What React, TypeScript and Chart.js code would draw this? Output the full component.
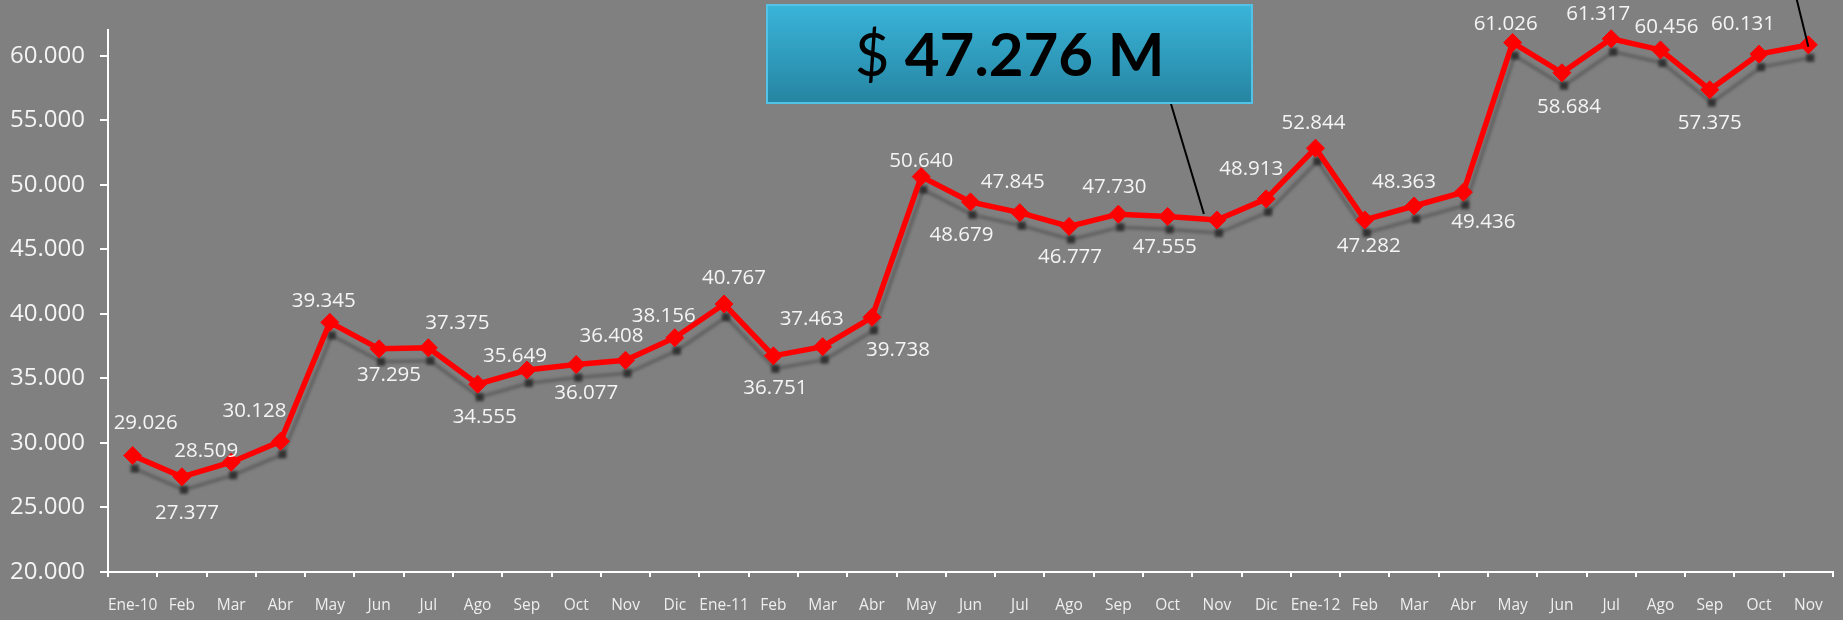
import React, { useEffect, useRef } from "react";
import { Chart, registerables } from "chart.js";

Chart.register(...registerables);

const categories = [
  "Ene-10", "Feb", "Mar", "Abr", "May", "Jun", "Jul", "Ago", "Sep", "Oct", "Nov", "Dic",
  "Ene-11", "Feb", "Mar", "Abr", "May", "Jun", "Jul", "Ago", "Sep", "Oct", "Nov", "Dic",
  "Ene-12", "Feb", "Mar", "Abr", "May", "Jun", "Jul", "Ago", "Sep", "Oct", "Nov",
];

const values = [
  29026, 27377, 28509, 30128, 39345, 37295, 37375, 34555, 35649, 36077, 36408, 38156,
  40767, 36751, 37463, 39738, 50640, 48679, 47845, 46777, 47730, 47555, 47276, 48913,
  52844, 47282, 48363, 49436, 61026, 58684, 61317, 60456, 57375, 60131, 60850,
];

const yTickValues = [20000, 25000, 30000, 35000, 40000, 45000, 50000, 55000, 60000];
const yMin = 20000;
const yMax = 62000;

// indices of points that carry a callout instead of a data label
const calloutIndex = 22;
const secondCalloutIndex = 34;

// label placement relative to each point [dx, dy] (style only)
const labelOffsets: [number, number][] = [
  [13, -34], [5, 35], [-25, -12], [-26, -31], [-6, -22], [10, 25], [29, -26], [7, 32],
  [-12, -15], [10, 27], [-14, -25], [-11, -23], [10, -27], [2, 31], [-11, -29], [26, 32],
  [0, -17], [-9, 32], [-7, -32], [1, 30], [-4, -28], [-3, 30], [0, 0], [-15, -31],
  [-2, -26], [4, 25], [-10, -25], [20, 29], [-7, -20], [7, 33], [-13, -26], [6, -24],
  [0, 32], [-16, -31], [0, 0],
];

const fmt = (v: number) =>
  Math.round(v).toString().replace(/\B(?=(\d{3})+(?!\d))/g, ".");

export default function App() {
  const ref = useRef<HTMLCanvasElement>(null);

  useEffect(() => {
    if (!ref.current) return;

    const shadowPlugin = {
      id: "shadowLine",
      beforeDatasetsDraw(chart: any) {
        const meta = chart.getDatasetMeta(0);
        const ctx = chart.ctx as CanvasRenderingContext2D;
        ctx.save();
        ctx.filter = "blur(1.4px)";
        ctx.strokeStyle = "rgba(85,85,85,0.75)";
        ctx.lineWidth = 3.5;
        ctx.lineJoin = "round";
        ctx.beginPath();
        meta.data.forEach((p: any, i: number) => {
          const x = p.x + 2;
          const y = p.y + 13;
          if (i === 0) ctx.moveTo(x, y);
          else ctx.lineTo(x, y);
        });
        ctx.stroke();
        ctx.fillStyle = "rgba(40,40,40,0.85)";
        meta.data.forEach((p: any) => {
          ctx.fillRect(p.x + 2 - 4, p.y + 13 - 4, 8, 8);
        });
        ctx.restore();
      },
    };

    const labelPlugin = {
      id: "dataLabels",
      afterDatasetsDraw(chart: any) {
        const meta = chart.getDatasetMeta(0);
        const ctx = chart.ctx as CanvasRenderingContext2D;
        ctx.save();
        ctx.font = '20.5px "Open Sans"';
        ctx.fillStyle = "#f4f4f4";
        ctx.textAlign = "center";
        ctx.textBaseline = "alphabetic";
        meta.data.forEach((p: any, i: number) => {
          if (i === calloutIndex || i === secondCalloutIndex) return;
          const [dx, dy] = labelOffsets[i];
          ctx.fillText(fmt(values[i]), p.x + dx, p.y + dy + 7);
        });
        ctx.restore();
      },
    };

    const calloutPlugin = {
      id: "callout",
      afterDraw(chart: any) {
        const meta = chart.getDatasetMeta(0);
        const ctx = chart.ctx as CanvasRenderingContext2D;
        const p = meta.data[calloutIndex];
        const q = meta.data[secondCalloutIndex];
        ctx.save();
        ctx.strokeStyle = "#000";
        ctx.lineWidth = 2;
        ctx.beginPath();
        ctx.moveTo(1171, 104);
        ctx.lineTo(p.x - 13, p.y - 6);
        ctx.stroke();
        ctx.beginPath();
        ctx.moveTo(q.x - 12, -2);
        ctx.lineTo(q.x, q.y + 2);
        ctx.stroke();
        const bx = 766, by = 4, bw = 487, bh = 100;
        const g = ctx.createLinearGradient(0, by, 0, by + bh);
        g.addColorStop(0, "#3ab5da");
        g.addColorStop(1, "#2684a1");
        ctx.fillStyle = g;
        ctx.fillRect(bx, by, bw, bh);
        ctx.strokeStyle = "#52c3e6";
        ctx.lineWidth = 2;
        ctx.strokeRect(bx + 1, by + 1, bw - 2, bh - 2);
        const size = 60;
        const pre = "$ ";
        const main = `${fmt(values[calloutIndex])} M`;
        ctx.font = `${size}px Lato`;
        const w1 = ctx.measureText(pre).width;
        ctx.font = `bold ${size}px Lato`;
        const w2 = ctx.measureText(main).width;
        const startX = bx + bw / 2 - (w1 + w2) / 2;
        const baseY = 76;
        ctx.fillStyle = "#000";
        ctx.textBaseline = "alphabetic";
        ctx.textAlign = "left";
        ctx.font = `${size}px Lato`;
        ctx.fillText(pre, startX, baseY);
        ctx.font = `bold ${size}px Lato`;
        ctx.fillText(main, startX + w1, baseY);
        ctx.restore();
      },
    };

    const chart = new Chart(ref.current, {
      type: "line",
      data: {
        labels: categories,
        datasets: [
          {
            data: values,
            borderColor: "#ff0000",
            backgroundColor: "#ff0000",
            borderWidth: 5.5,
            pointStyle: "rectRot",
            pointRadius: 9,
            pointBorderWidth: 1,
            pointBorderColor: "#ff0000",
            pointBackgroundColor: "#ff0000",
            tension: 0,
            clip: false as any,
          },
        ],
      },
      options: {
        animation: false,
        responsive: false,
        devicePixelRatio: 1,
        layout: { padding: { top: 30, right: 8, left: 0, bottom: 0 } },
        plugins: {
          legend: { display: false },
          tooltip: { enabled: false },
        },
        scales: {
          x: {
            type: "category",
            offset: true,
            grid: {
              display: true,
              drawOnChartArea: false,
              drawTicks: true,
              tickLength: 5,
              color: "#ffffff",
              lineWidth: 2,
              offset: true,
            },
            border: { display: true, color: "#ffffff", width: 2 },
            ticks: {
              color: "#eeeeee",
              font: { family: '"Open Sans"', size: 15.5 },
              padding: 19,
              autoSkip: false,
              maxRotation: 0,
            },
            afterFit: (s: any) => {
              s.height = 48;
            },
          },
          y: {
            type: "linear",
            min: yMin,
            max: yMax,
            ticks: {
              color: "#f4f4f4",
              font: { family: '"Open Sans"', size: 24 },
              padding: 15,
              autoSkip: false,
              callback: (v: any) => fmt(Number(v)),
            },
            afterBuildTicks: (s: any) => {
              s.ticks = yTickValues.map((v) => ({ value: v }));
            },
            grid: {
              display: true,
              drawOnChartArea: false,
              drawTicks: true,
              tickLength: 8,
              color: "#ffffff",
              lineWidth: 2,
            },
            border: { display: true, color: "#ffffff", width: 2 },
            afterFit: (s: any) => {
              s.width = 108;
            },
          },
        },
      },
      plugins: [shadowPlugin, labelPlugin, calloutPlugin],
    });

    return () => chart.destroy();
  }, []);

  return (
    <div
      style={{
        position: "fixed",
        left: 0,
        top: 0,
        width: 1843,
        height: 620,
        background: "#808080",
        overflow: "hidden",
      }}
    >
      <canvas ref={ref} width={1843} height={620} style={{ display: "block" }} />
    </div>
  );
}
